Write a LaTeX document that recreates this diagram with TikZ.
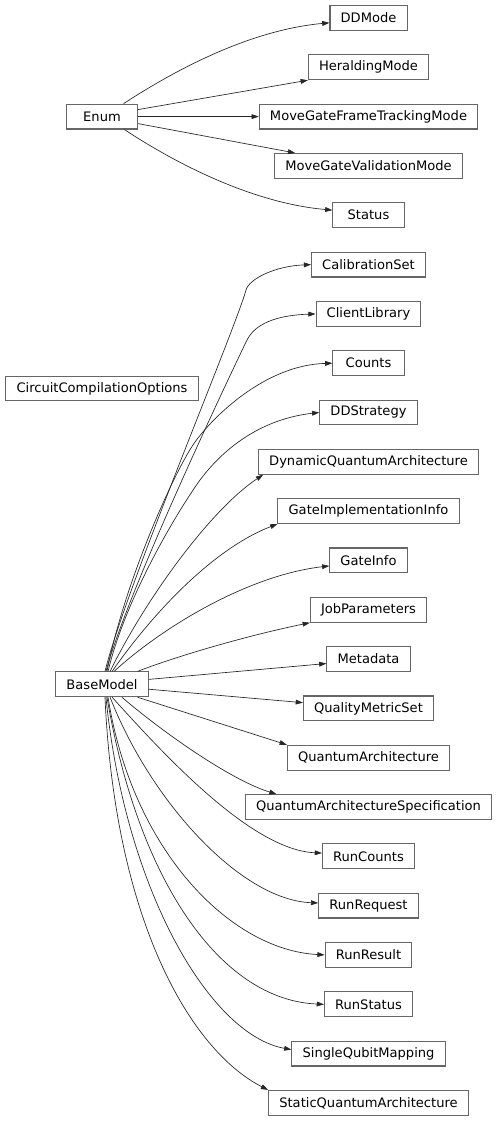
\documentclass[tikz,border=0pt]{standalone}
\usepackage{fontspec}
\setmainfont{DejaVu Sans}
\usetikzlibrary{arrows.meta}

\begin{document}
\begin{tikzpicture}[x=0.75pt, y=-0.75pt,
  cls/.style={draw=black!60, line width=0.8pt, inner xsep=8pt, inner ysep=0pt,
    minimum height=18.6pt, minimum width=53.4pt, font=\fontsize{9.8}{12}\selectfont},
  inh/.style={draw=black!85, line width=0.5pt,
    -{Triangle[length=5.4pt,width=3.6pt]}}]
  \useasboundingbox (0,0) rectangle (496,1121);
  % base classes
  \node[cls] (enum) at (102,116.6) {Enum};
  \node[cls] (circopts) at (102,388.5) {CircuitCompilationOptions};
  \node[cls] (basemodel) at (102,684.3) {BaseModel};
  % enums
  \node[cls] (ddmode) at (368.5,18) {DDMode};
  \node[cls] (herald) at (368.5,67.3) {HeraldingMode};
  \node[cls] (mgftm) at (368.5,116.6) {MoveGateFrameTrackingMode};
  \node[cls] (mgvm) at (368.5,165.9) {MoveGateValidationMode};
  \node[cls] (status) at (368.5,215.2) {Status};
  % models
  \node[cls] (calset) at (368.5,264.6) {CalibrationSet};
  \node[cls] (clientlib) at (368.5,313.9) {ClientLibrary};
  \node[cls] (counts) at (368.5,363.2) {Counts};
  \node[cls] (ddstrat) at (368.5,412.5) {DDStrategy};
  \node[cls] (dynqa) at (368.5,461.8) {DynamicQuantumArchitecture};
  \node[cls] (gateimpl) at (368.5,511.1) {GateImplementationInfo};
  \node[cls] (gateinfo) at (368.5,560.4) {GateInfo};
  \node[cls] (jobparams) at (368.5,609.8) {JobParameters};
  \node[cls] (metadata) at (368.5,659.1) {Metadata};
  \node[cls] (qmset) at (368.5,708.4) {QualityMetricSet};
  \node[cls] (qarch) at (368.5,757.7) {QuantumArchitecture};
  \node[cls] (qaspec) at (368.5,807) {QuantumArchitectureSpecification};
  \node[cls] (runcounts) at (368.5,856.3) {RunCounts};
  \node[cls] (runrequest) at (368.5,905.6) {RunRequest};
  \node[cls] (runresult) at (368.5,954.9) {RunResult};
  \node[cls] (runstatus) at (368.5,1004.3) {RunStatus};
  \node[cls] (sqmap) at (368.5,1053.6) {SingleQubitMapping};
  \node[cls] (staticqa) at (368.5,1102.9) {StaticQuantumArchitecture};
  % Enum edges
  \draw[inh] (enum.31) .. controls (175,70) and (250,30) .. (ddmode.187);
  \draw[inh] (enum.11) -- (herald.south west);
  \draw[inh] (enum.east) -- (mgftm.west);
  \draw[inh] (enum.-11) -- (mgvm.170);
  \draw[inh] (enum.-30) .. controls (175,163) and (252,203) .. (status.172);
  % BaseModel edges
  \draw[inh] (basemodel.77) .. controls (125,590) and (235,330) .. (246,290)
    .. controls (249,279) and (275,266) .. (calset.west);
  \draw[inh] (basemodel.73) .. controls (128,590) and (230,375) .. (247,340)
    .. controls (257,320) and (285,315) .. (clientlib.west);
  \draw[inh] (basemodel.69) .. controls (125,580) and (175,470) .. (195,442)
    .. controls (213,417) and (265,365) .. (counts.west);
  \draw[inh] (basemodel.65) .. controls (125,600) and (175,515) .. (200,480)
    .. controls (230,440) and (270,418) .. (ddstrat.west);
  \draw[inh] (basemodel.58) .. controls (145,600) and (210,510) .. (dynqa.187);
  \draw[inh] (basemodel.52) .. controls (155,610) and (215,548) .. (gateimpl.south west);
  \draw[inh] (basemodel.47) .. controls (165,625) and (250,575) .. (gateinfo.188);
  \draw[inh] (basemodel.20) .. controls (180,655) and (250,635) .. (jobparams.south west);
  \draw[inh] (basemodel.6) -- (metadata.186);
  \draw[inh] (basemodel.-6) -- (qmset.175);
  \draw[inh] (basemodel.-20) -- (qarch.171);
  \draw[inh] (basemodel.-33) .. controls (160,730) and (230,780) .. (qaspec.172);
  \draw[inh] (basemodel.-52) .. controls (160,750) and (250,850) .. (runcounts.176);
  \draw[inh] (basemodel.-58) .. controls (150,800) and (240,900) .. (runrequest.177);
  \draw[inh] (basemodel.-65) .. controls (132,850) and (230,950) .. (runresult.west);
  \draw[inh] (basemodel.-69) .. controls (138,880) and (220,1000) .. (runstatus.west);
  \draw[inh] (basemodel.-73) .. controls (125,890) and (210,1035) .. (sqmap.177);
  \draw[inh] (basemodel.-77) .. controls (115,920) and (190,1050) .. (staticqa.north west);
\end{tikzpicture}
\end{document}
